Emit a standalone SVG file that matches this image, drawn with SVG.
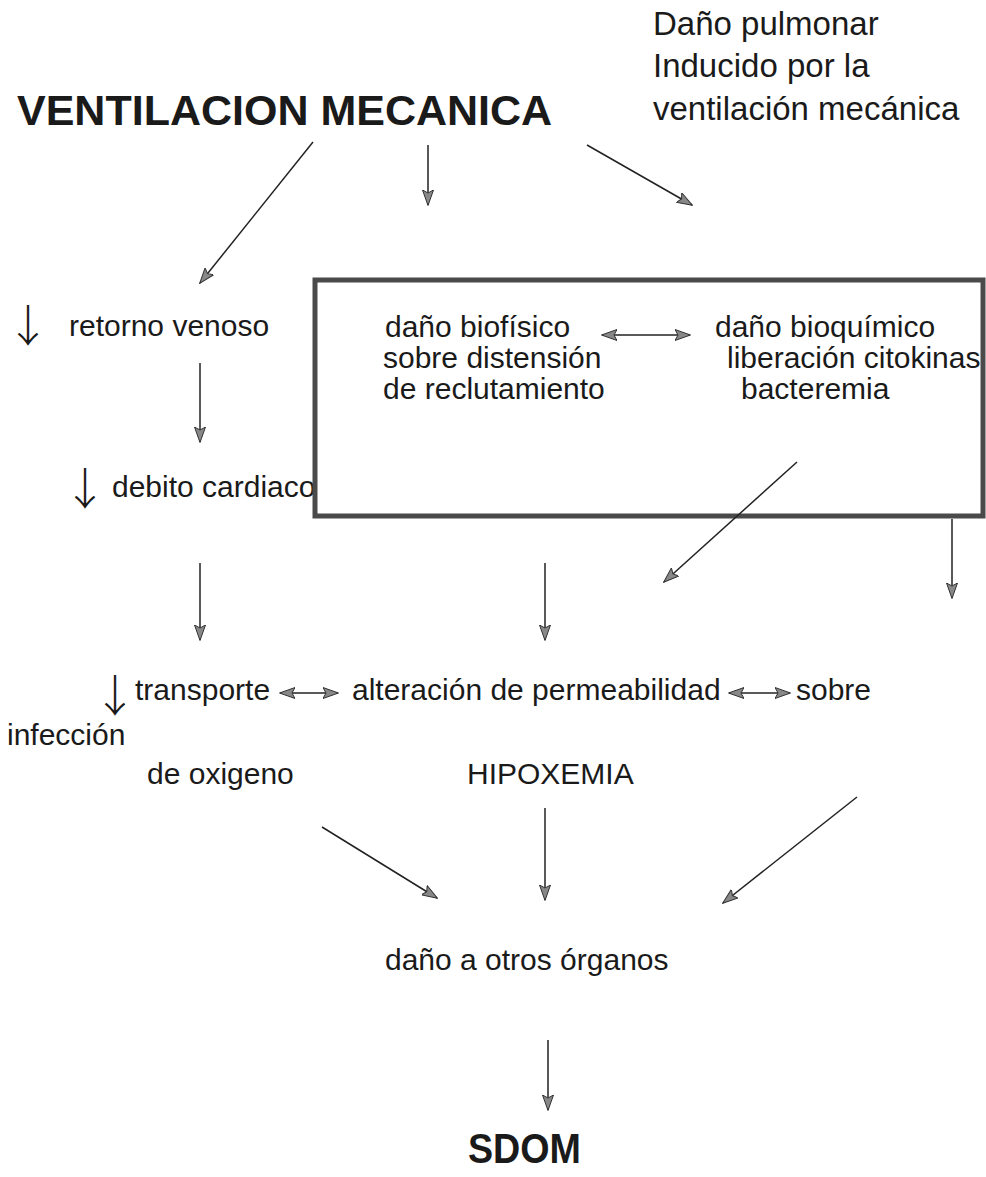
<svg xmlns="http://www.w3.org/2000/svg" width="986" height="1177" viewBox="0 0 986 1177">
<defs>
<style>
text{font-family:"Liberation Sans",Arial,sans-serif;fill:#1a1a1a;}
.t{font-size:30px;}
.big{font-size:43px;font-weight:bold;}
.hd{font-size:33px;}
.arr{font-family:"Noto Sans CJK JP","Noto Sans CJK SC",sans-serif;font-size:44px;font-weight:300;}
.ln{stroke:#222;stroke-width:1.5;fill:none;}
.box{fill:none;stroke:#4a4a4a;stroke-width:5;}
</style>
<marker id="ah" viewBox="0 0 16 12" refX="15" refY="6" markerWidth="16" markerHeight="12" markerUnits="userSpaceOnUse" orient="auto">
<path d="M0,0.5 L15.5,6 L0,11.5 L3,6 Z" fill="#888" stroke="#333" stroke-width="1"/>
</marker>
<marker id="as" viewBox="0 0 16 12" refX="1" refY="6" markerWidth="16" markerHeight="12" markerUnits="userSpaceOnUse" orient="auto">
<path d="M16,0.5 L0.5,6 L16,11.5 L13,6 Z" fill="#888" stroke="#333" stroke-width="1"/>
</marker>
</defs>
<rect width="986" height="1177" fill="#fff"/>

<g id="ventilacion"><text class="big" x="17" y="125">VENTILACION MECANICA</text></g>
<g id="dano-pulmonar">
<text class="hd" x="653" y="35">Daño pulmonar</text>
<text class="hd" x="653" y="77">Inducido por la</text>
<text class="hd" x="653" y="120">ventilación mecánica</text>
</g>
<g id="retorno"><text class="arr" x="6" y="342">↓</text><text class="t" x="69" y="336">retorno venoso</text></g>
<g id="debito"><text class="arr" x="63" y="505">↓</text><text class="t" x="112" y="497" font-size="29.5">debito cardiaco</text></g>
<g id="caja">
<rect class="box" x="315" y="280" width="668" height="236"/>
</g>
<g id="biofisico">
<text class="t" x="385" y="337">daño biofísico</text>
<text class="t" x="383" y="368">sobre distensión</text>
<text class="t" x="383" y="399">de reclutamiento</text>
</g>
<g id="bioquimico">
<text class="t" x="715" y="337">daño bioquímico</text>
<text class="t" x="727" y="368">liberación citokinas</text>
<text class="t" x="741" y="399">bacteremia</text>
</g>
<g id="transporte"><text class="arr" x="93" y="712">↓</text><text class="t" x="135" y="700">transporte</text><text class="t" x="147" y="784">de oxigeno</text></g>
<g id="permeabilidad"><text class="t" x="352" y="700">alteración de permeabilidad</text></g>
<g id="sobre"><text class="t" x="796" y="700">sobre</text></g>
<g id="infeccion"><text class="t" x="7" y="745">infección</text></g>
<g id="hipoxemia"><text class="t" x="467" y="784">HIPOXEMIA</text></g>
<g id="organos"><text class="t" x="385" y="970">daño a otros órganos</text></g>
<g id="sdom"><text class="big" x="468" y="1163" font-size="45" textLength="113" lengthAdjust="spacingAndGlyphs">SDOM</text></g>

<g id="connectors">
<line class="ln" x1="313" y1="142" x2="200" y2="283" marker-end="url(#ah)"/>
<line class="ln" x1="428" y1="145" x2="428" y2="205" marker-end="url(#ah)"/>
<line class="ln" x1="587" y1="145" x2="692" y2="205" marker-end="url(#ah)"/>
<line class="ln" x1="200" y1="363" x2="200" y2="442" marker-end="url(#ah)"/>
<line class="ln" x1="602" y1="335" x2="690" y2="335" marker-start="url(#as)" marker-end="url(#ah)"/>
<line class="ln" x1="797" y1="462" x2="664" y2="582" marker-end="url(#ah)"/>
<line class="ln" x1="952" y1="519" x2="952" y2="598" marker-end="url(#ah)"/>
<line class="ln" x1="200" y1="563" x2="200" y2="640" marker-end="url(#ah)"/>
<line class="ln" x1="545" y1="563" x2="545" y2="640" marker-end="url(#ah)"/>
<line class="ln" x1="280" y1="693" x2="338" y2="693" marker-start="url(#as)" marker-end="url(#ah)"/>
<line class="ln" x1="729" y1="693" x2="790" y2="693" marker-start="url(#as)" marker-end="url(#ah)"/>
<line class="ln" x1="322" y1="827" x2="437" y2="898" marker-end="url(#ah)"/>
<line class="ln" x1="545" y1="808" x2="545" y2="900" marker-end="url(#ah)"/>
<line class="ln" x1="857" y1="797" x2="723" y2="903" marker-end="url(#ah)"/>
<line class="ln" x1="548" y1="1040" x2="548" y2="1110" marker-end="url(#ah)"/>
</g>
</svg>
